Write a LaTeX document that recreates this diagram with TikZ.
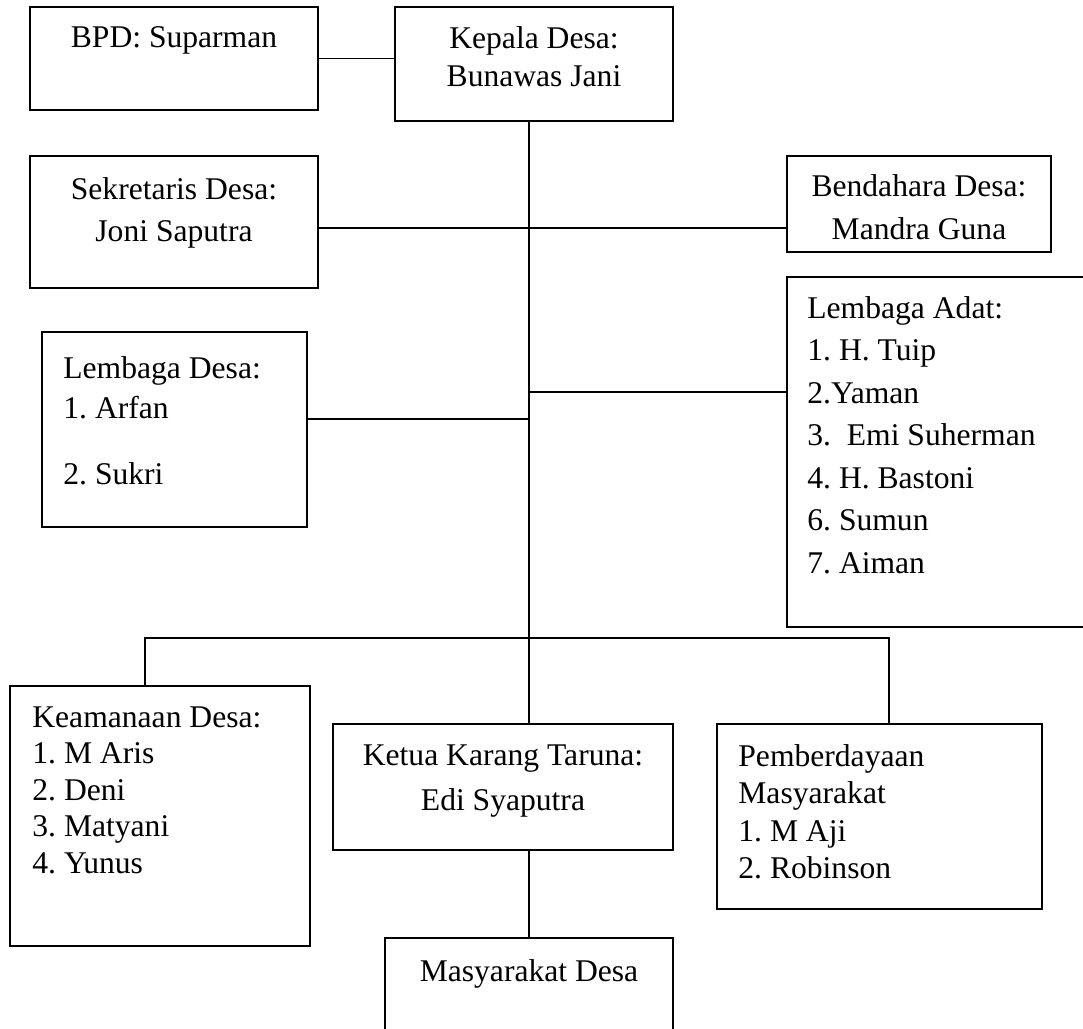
\documentclass[tikz,border=0pt]{standalone}
\usepackage{fontspec}
\setmainfont{Liberation Serif}
\usetikzlibrary{fit}

\begin{document}
\begin{tikzpicture}[x=0.5pt, y=-0.5pt,
		box/.style={draw, line width=1pt, inner sep=0pt},
		link/.style={line width=0.75pt},
		lbl/.style={inner sep=0pt, font=\fontsize{15.8}{#1}\selectfont\frenchspacing}]
			%%%%% START %%%%%
			
			\useasboundingbox (0,0) rectangle (1083,1029);
			\fill[white] (0,0) rectangle (1083,1029);
			\clip (0,0) rectangle (1083,1029);
			
			% top row
			\node[box, fit={(30,7) (318,110)}] (bpd) {};
			\node[box, fit={(395,7) (673,121)}] (kepala) {};
			\node[lbl=19, anchor=north] (bpd-t) at (174,26) {BPD: Suparman};
			\node[lbl=19, anchor=north, align=center] (kepala-t) at (534,26) {Kepala Desa:\\Bunawas Jani};
			
			\node[box, fit={(30,156) (318,288)}] (sek) {};
			\node[box, fit={(787,156) (1051,252)}] (bend) {};
			\node[lbl=21, anchor=north, align=center] (sek-t) at (174,177) {Sekretaris Desa:\\Joni Saputra};
			\node[lbl=21.5, anchor=north, align=center] (bend-t) at (919,174) {Bendahara Desa:\\Mandra Guna};
			
			\node[box, fit={(42,332) (307,527)}] (ldesa) {};
			\node[box, fit={(787,277) (1110,627)}] (adat) {};
			\node[lbl=20, anchor=north west, align=left] (ldesa-t) at (63,356) {Lembaga Desa:\\1. Arfan\\[13pt]2. Sukri};
			\node[lbl=21.25, anchor=north west, align=left] (adat-t) at (807,296) {Lembaga Adat:\\1. H. Tuip\\2.Yaman\\3.\ \ Emi Suherman\\4. H. Bastoni\\6. Sumun\\7. Aiman};
			
			% bottom row
			\node[box, fit={(10,686) (310,946)}] (keam) {};
			\node[box, fit={(333,724) (673,850)}] (ketua) {};
			\node[box, fit={(717,724) (1042,909)}] (pemb) {};
			\node[box, fit={(385,938) (673,1060)}] (masy) {};
			\node[lbl=18.25, anchor=north west, align=left] (keam-t) at (32,706) {Keamanaan Desa:\\1. M Aris\\2. Deni\\3. Matyani\\4. Yunus};
			\node[lbl=22.5, anchor=north, align=center] (ketua-t) at (503,744) {Ketua Karang Taruna:\\Edi Syaputra};
			\node[lbl=18.75, anchor=north west, align=left] (pemb-t) at (738,744) {Pemberdayaan\\Masyarakat\\1. M Aji\\2. Robinson};
			\node[lbl=19, anchor=north] (masy-t) at (529,959) {Masyarakat Desa};
			
			% trunk and branches
			\coordinate (j1) at (529,228);
			\coordinate (j2) at (529,392);
			\coordinate (j3) at (529,419);
			\coordinate (j4) at (529,638);
			\coordinate (bl) at (145,638);
			\coordinate (br) at (889,638);
			
			\draw[link] (bpd.east) -- (bpd.east -| kepala.west);
			\draw[link] (kepala.south -| j1) -- (j4);
			\draw[link] (sek.east |- j1) -- (bend.west |- j1);
			\draw[link] (j2) -- (adat.west |- j2);
			\draw[link] (ldesa.east |- j3) -- (j3);
			\draw[link] (bl |- keam.north) -- (bl) -- (br) -- (br |- pemb.north);
			\draw[link] (j4) -- (j4 |- ketua.north);
			\draw[link] (ketua.south -| masy.north) -- (masy.north);
			
			%%%%% END %%%%%
		\end{tikzpicture}
\end{document}
